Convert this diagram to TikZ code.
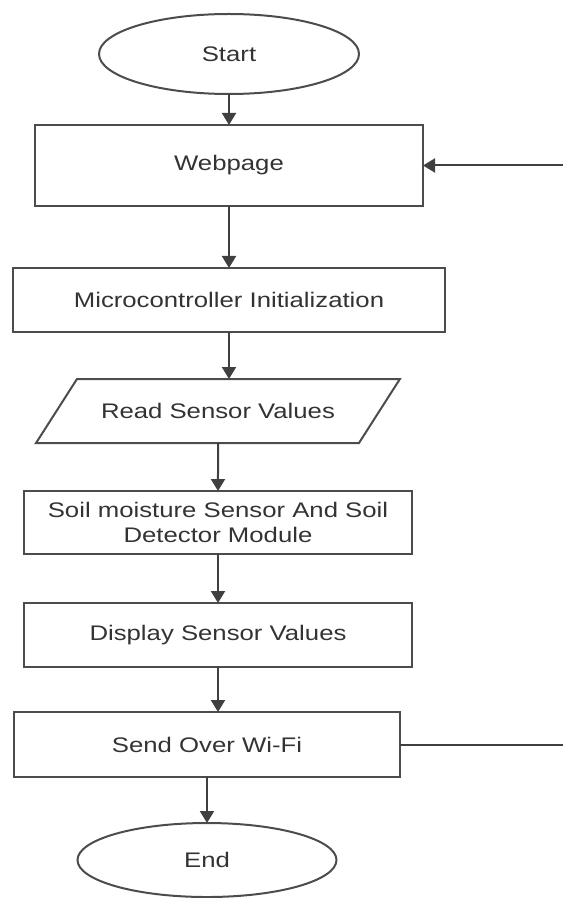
\documentclass[tikz,border=0pt]{standalone}
\usepackage{xcolor}
\usepackage{fontspec}
\setmainfont{Liberation Sans}[FakeStretch=1.22]
\usepackage{tikz}
\usetikzlibrary{shapes,arrows,positioning,shapes.geometric,arrows.meta,calc}

\begin{document}
\begin{tikzpicture}[node distance=9.6mm, every node/.style={font=\fontsize{12pt}{14.2pt}\selectfont, text=black!80, outer sep=0pt}]
  \tikzset{
    term/.style={ellipse, draw=black!70, line width=0.4mm, minimum width=52mm, minimum height=16mm, inner sep=0pt},
    procbox/.style={rectangle, draw=black!70, line width=0.4mm, minimum width=77.6mm, minimum height=12.8mm, align=center, inner sep=0pt},
    iobox/.style={trapezium, trapezium left angle=57.4, trapezium right angle=122.6, draw=black!70, line width=0.4mm,
      text width=50mm, align=center, text height=3mm, text depth=0mm, inner xsep=3.2mm, inner ysep=4.9mm},
    flow/.style={-{Triangle[length=2.4mm,width=2.8mm]}, draw=black!75, line width=0.4mm},
    plain/.style={draw=black!75, line width=0.4mm}
  }

  \useasboundingbox (-45.8mm,10.8mm) rectangle (66.8mm,-168.8mm);

  % nodes
  \node[term] (start) {Start};
  \node[procbox, below=6.2mm of start, minimum height=16.2mm] (web) {Webpage};
  \node[procbox, below=12.4mm of web, minimum width=86.2mm] (micro) {Microcontroller Initialization};
  \node[iobox, below=9.4mm of micro, xshift=-2.2mm] (read) {Read Sensor Values};
  \node[procbox, below=9.6mm of read, minimum height=12.6mm] (soil) {Soil moisture Sensor And Soil\\Detector Module};
  \node[procbox, below=9.8mm of soil] (disp) {Display Sensor Values};
  \node[procbox, below=9mm of disp, xshift=-2.2mm, minimum width=77.2mm, minimum height=13mm] (send) {Send Over Wi-Fi};
  \node[term, below=9.2mm of send, minimum width=51.8mm, minimum height=14.8mm] (end) {End};

  % right side
  \coordinate (edge) at (66.8mm,0);
  \coordinate (back) at (edge |- web.east);
  \coordinate (out) at (edge |- send.east);

  % arrows
  \draw[flow] (start) -- (web);
  \draw[flow] (web) -- (micro);
  \draw[flow] (micro.south) -- (micro.south |- read.north);
  \draw[flow] (read) -- (soil);
  \draw[flow] (soil) -- (disp);
  \draw[flow] (disp.south) -- (disp.south |- send.north);
  \draw[flow] (send) -- (end);
  \draw[flow] (back) -- (web.east);
  \draw[plain] (send.east) -- (out);
\end{tikzpicture}
\end{document}
